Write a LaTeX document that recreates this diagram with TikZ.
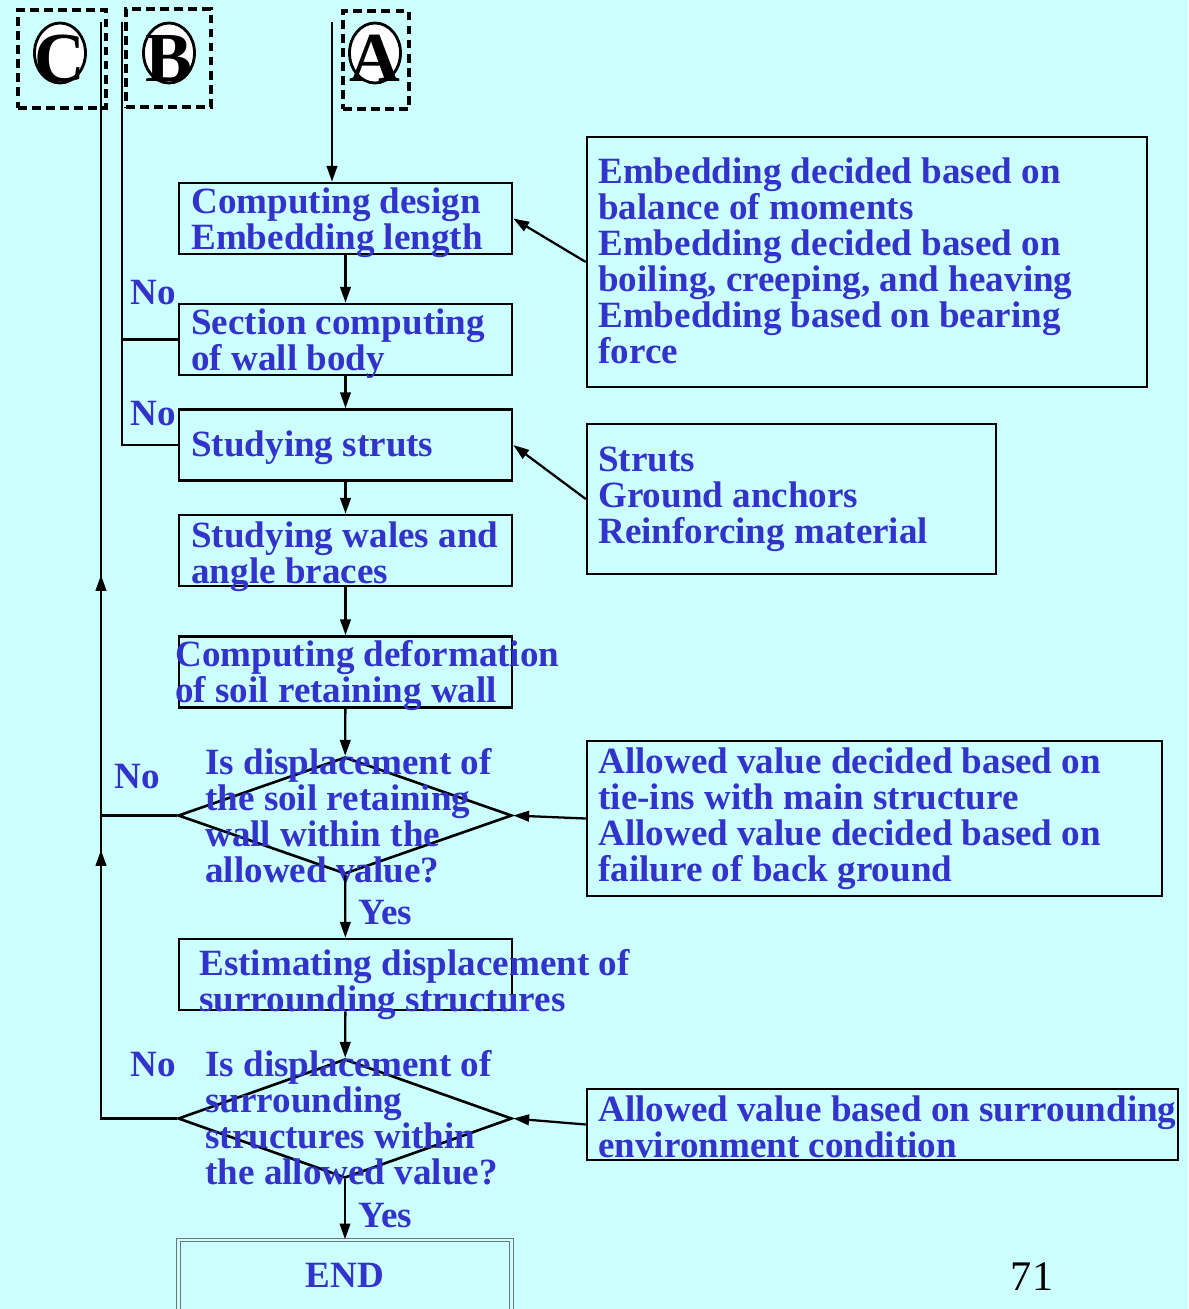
\documentclass[tikz,border=0pt]{standalone}
\usepackage{fontspec}
\setmainfont{Liberation Serif}
\usetikzlibrary{shapes.geometric,arrows.meta}
\definecolor{slidebg}{HTML}{CCFFFF}
\definecolor{slideblue}{HTML}{3333CC}
\tikzset{
  box/.style={draw, line width=1.5pt, minimum width=6.66cm, minimum height=1.42cm, inner sep=0pt},
  infobox/.style={draw, line width=1.5pt, inner sep=0pt},
  decision/.style={diamond, draw, line width=1.5pt, minimum width=6.68cm, inner sep=0pt},
  lbl/.style={anchor=base west, align=left, inner sep=0pt, text=slideblue,
    font=\bfseries\fontsize{21.1}{20.4}\selectfont},
  tagbox/.style={draw, dash pattern=on 5pt off 3pt, line width=1.8pt, minimum height=1.96cm, inner sep=0pt},
  tagcircle/.style={ellipse, draw, fill=white, line width=1.6pt, minimum width=1.02cm, minimum height=1.2cm, inner sep=0pt},
  tagletter/.style={anchor=base, inner sep=0pt, font=\bfseries\fontsize{40}{40}\selectfont},
  flow/.style={line width=1.3pt}
}
\begin{document}
\begin{tikzpicture}[x=0.02cm, y=-0.02cm, >={Triangle[length=9pt,width=6pt]}]
\fill[slidebg] (0,0) rectangle (1188,1309);
\clip (0,0) rectangle (1188,1309);

% Rimandi A, B, C
\node[tagbox, minimum width=1.76cm] (boxC) at (62,59) {};
\node[tagbox, minimum width=1.7cm] (boxB) at (168.5,58) {};
\node[tagbox, minimum width=1.32cm] (boxA) at (376,60) {};
\foreach \t/\x in {C/60, B/169, A/375} {
  \node[tagcircle] (circ\t) at (\x,53) {};
  \node[tagletter] (let\t) at (\x,81) {\t};
}
\coordinate (topC) at (101,22);
\coordinate (topB) at (122,22);
\coordinate (topA) at (332,22);

% Passi del calcolo
\foreach \n/\y in {b1/218.5, b2/339.5, b3/445, b4/550.5, b5/672, b7/974.5}
  \node[box] (\n) at (345.5,\y) {};
\node[decision, minimum height=2.34cm] (d1) at (345,815.5) {};
\node[decision, minimum height=2.38cm] (d2) at (345,1118.5) {};
\node[box, draw=black!55, line width=0.8pt, double=slidebg, double distance=1.2pt,
  minimum height=2cm] (end) at (345,1290) {};

% (ancora = linea di base dell'ultima riga)
\node[lbl] (t1) at (191,249) {Computing design\\Embedding length};
\node[lbl] (t2) at (191,370) {Section computing\\of wall body};
\node[lbl] (t3) at (191,456) {Studying struts};
\node[lbl] (t4) at (191,583) {Studying wales and\\angle braces};
\node[lbl] (t5) at (175,702) {Computing deformation\\of soil retaining wall};
\node[lbl] (t6) at (205,882) {Is displacement of\\the soil retaining\\wall within the\\allowed value?};
\node[lbl] (t7) at (199,1011) {Estimating displacement of\\surrounding structures};
\node[lbl] (t8) at (205,1184) {Is displacement of\\surrounding\\structures within\\the allowed value?};
\node[lbl, anchor=base] (tEnd) at (345,1287) {END};

% Condizioni a destra
\node[infobox, minimum width=11.2cm, minimum height=5cm] (r1) at (867,262) {};
\node[infobox, minimum width=8.18cm, minimum height=3cm] (r2) at (791.5,499) {};
\node[infobox, minimum width=11.5cm, minimum height=3.1cm] (r3) at (874.5,818.5) {};
\node[infobox, minimum width=11.82cm, minimum height=1.42cm] (r4) at (882.5,1124.5) {};

\node[lbl] (s1) at (598,363) {Embedding decided based on\\balance of moments\\Embedding decided based on\\boiling, creeping, and heaving\\Embedding based on bearing\\force};
\node[lbl] (s2) at (598,543) {Struts\\Ground anchors\\Reinforcing material};
\node[lbl] (s3) at (598,881) {Allowed value decided based on\\tie-ins with main structure\\Allowed value decided based on\\failure of back ground};
\node[lbl] (s4) at (598,1157) {Allowed value based on surrounding\\environment condition};

% Etichette No / Yes
\node[lbl] (no1) at (130,304) {No};
\node[lbl] (no2) at (130,425) {No};
\node[lbl] (no3) at (114,788) {No};
\node[lbl] (no4) at (130,1076) {No};
\node[lbl] (yes1) at (358,924) {Yes};
\node[lbl] (yes2) at (358,1227) {Yes};

\node[anchor=base, inner sep=0pt, font=\fontsize{24}{24}\selectfont] (pg) at (1032,1290) {71};

% Frecce
\draw[flow,->] (topA) -- (topA |- b1.north);
\foreach \a/\b in {b1/b2, b2/b3, b3/b4, b4/b5, b5/d1, d1/b7, b7/d2, d2/end}
  \draw[flow,->] (\a) -- (\b);
\foreach \a/\b in {r1/b1, r2/b3, r3/d1, r4/d2}
  \draw[flow,->] (\a.west) -- (\b.east);

% Ritorni
\draw[flow] (topB) -- (topB |- b3.west) -- (b3.west);
\draw[flow] (topB |- b2.west) -- (b2.west);
\coordinate (upC1) at (101,850);
\coordinate (upC2) at (101,575);
\draw[flow] (d2.west) -- (d2.west -| topC) -- (topC);
\draw[flow] (d1.west) -- (d1.west -| topC);
\draw[flow,->] (d2.west -| topC) -- (upC1);
\draw[flow,->] (d1.west -| topC) -- (upC2);
\end{tikzpicture}
\end{document}
